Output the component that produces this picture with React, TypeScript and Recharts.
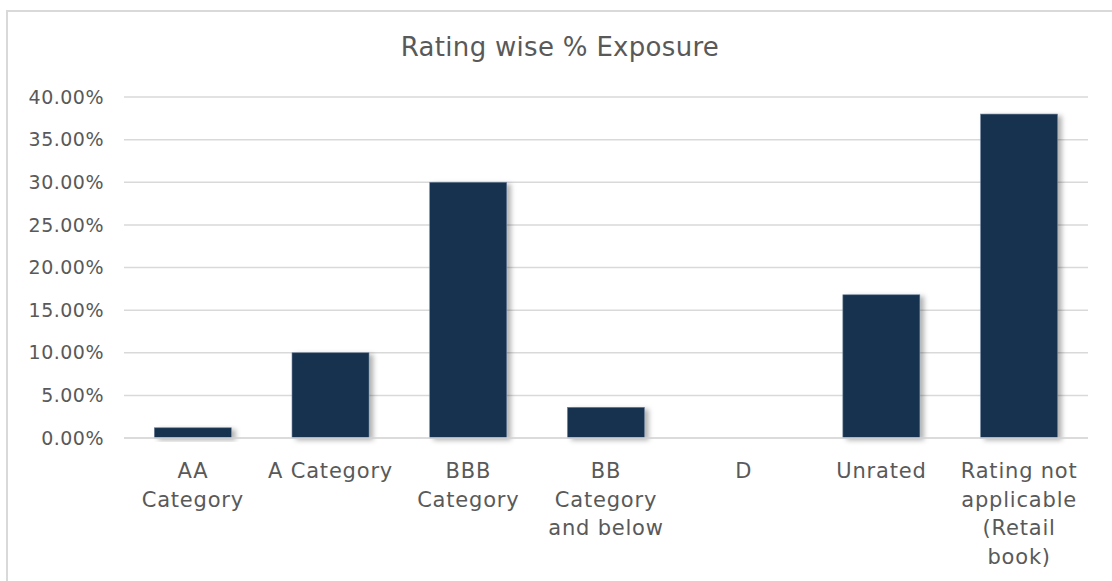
import React from "react";
import { BarChart, Bar, XAxis, YAxis, CartesianGrid } from "recharts";

const categories = [
  "AA Category",
  "A Category",
  "BBB Category",
  "BB Category and below",
  "D",
  "Unrated",
  "Rating not applicable (Retail book)",
];

// how each category label wraps under the axis
const categoryLines = [
  ["AA", "Category"],
  ["A Category"],
  ["BBB", "Category"],
  ["BB", "Category", "and below"],
  ["D"],
  ["Unrated"],
  ["Rating not", "applicable", "(Retail", "book)"],
];

const exposure = [1.2, 10.0, 30.0, 3.6, 0, 16.8, 38.0];

const yTicks = [0, 5, 10, 15, 20, 25, 30, 35, 40];

const data = categories.map((name, i) => ({
  name,
  lines: categoryLines[i],
  value: exposure[i],
}));

const FONT = "'DejaVu Sans', Verdana, sans-serif";
const TEXT_COLOR = "#595959";

const CategoryTick = (props: any) => {
  const { x, y, index } = props;
  const lines = categoryLines[index] || [];
  return (
    <g transform={`translate(${x},${y})`}>
      {lines.map((line, i) => (
        <text
          key={i}
          x={0}
          y={32 + i * 28.5}
          textAnchor="middle"
          fill={TEXT_COLOR}
          fontSize={21}
          letterSpacing={0.8}
          fontFamily={FONT}
        >
          {line}
        </text>
      ))}
    </g>
  );
};

const ShadowBar = (props: any) => {
  const { x, y, width, height } = props;
  if (!height || height <= 0) return null;
  return (
    <rect
      x={x}
      y={y}
      width={width}
      height={height}
      fill="#17324f"
      stroke="#6d819a"
      strokeWidth={0.6}
      filter="url(#barShadow)"
    />
  );
};

export default function App() {
  return (
    <div
      style={{
        position: "absolute",
        left: 0,
        top: 0,
        width: 1112,
        height: 581,
        background: "#fff",
        overflow: "hidden",
      }}
    >
      <div
        style={{
          position: "absolute",
          left: 6,
          top: 10,
          width: 1120,
          height: 600,
          border: "2px solid #d9d9d9",
          boxSizing: "border-box",
        }}
      />
      <div
        style={{
          position: "absolute",
          left: 0,
          top: 32,
          width: 1120,
          textAlign: "center",
          fontFamily: FONT,
          fontSize: 26,
          letterSpacing: 0.3,
          color: TEXT_COLOR,
        }}
      >
        Rating wise % Exposure
      </div>
      <div style={{ position: "absolute", left: 0, top: 0 }}>
        <BarChart
          width={1112}
          height={581}
          data={data}
          margin={{ top: 97, right: 24, bottom: 3, left: 0 }}
          barCategoryGap="22%"
        >
          <defs>
            <filter id="barShadow" x="-20%" y="-20%" width="150%" height="150%">
              <feDropShadow
                dx={4}
                dy={2}
                stdDeviation={2.5}
                floodColor="#000"
                floodOpacity={0.3}
              />
            </filter>
          </defs>
          <CartesianGrid
            vertical={false}
            stroke="#d9d9d9"
            strokeWidth={1.5}
          />
          <XAxis
            dataKey="name"
            height={140}
            axisLine={{ stroke: "#d9d9d9", strokeWidth: 1.5 }}
            tickLine={false}
            interval={0}
            tick={<CategoryTick />}
          />
          <YAxis
            width={124}
            domain={[0, 40]}
            ticks={yTicks}
            axisLine={false}
            tickLine={false}
            tickMargin={14}
            tickFormatter={(v: number) => `${v.toFixed(2)}%`}
            tick={{
              fill: TEXT_COLOR,
              fontSize: 19,
              fontFamily: FONT,
              letterSpacing: 0.5,
            }}
          />
          <Bar
            dataKey="value"
            shape={<ShadowBar />}
            isAnimationActive={false}
          />
        </BarChart>
      </div>
    </div>
  );
}
